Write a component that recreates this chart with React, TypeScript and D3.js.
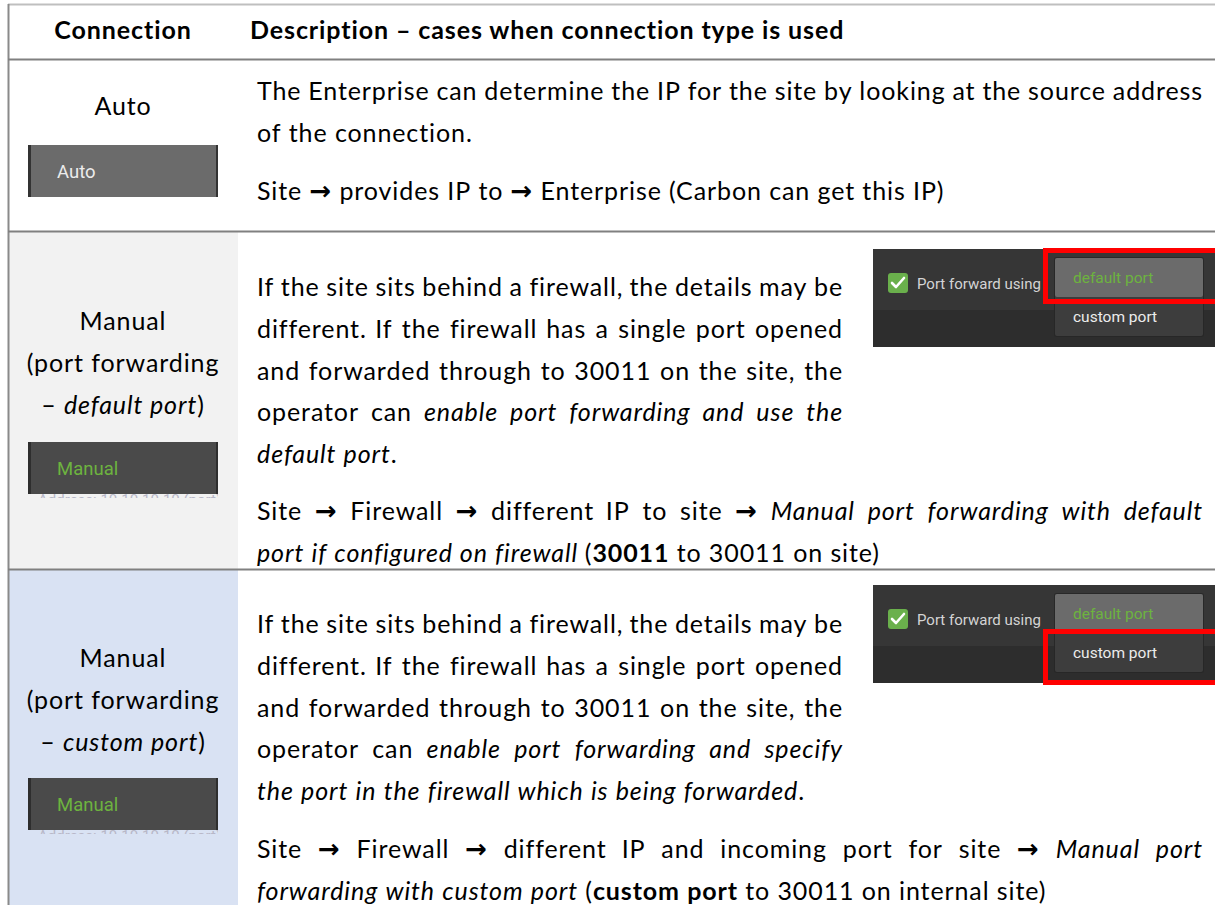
import React, { useMemo } from 'react';
import * as d3 from 'd3';

type Style = 'i' | 'b' | 'a';
type Run = { t: string; s?: Style };

const W = 1215;
const H = 905;

// ---------- data ----------
const headerLabels: string[] = ['Connection', 'Description – cases when connection type is used'];

const connectionLabels: Run[][][] = [
  [[{ t: 'Auto' }]],
  [[{ t: 'Manual' }], [{ t: '(port forwarding' }], [{ t: '– ' }, { t: 'default port', s: 'i' }, { t: ')' }]],
  [[{ t: 'Manual' }], [{ t: '(port forwarding' }], [{ t: '– ' }, { t: 'custom port', s: 'i' }, { t: ')' }]],
];

const buttonLabels: string[] = ['Auto', 'Manual', 'Manual'];

const autoDescription: Run[][][] = [
  [
    [{ t: 'The Enterprise can determine the IP for the site by looking at the source address' }],
    [{ t: 'of the connection.' }],
  ],
  [[{ t: 'Site ' }, { t: '→', s: 'a' }, { t: ' provides IP to ' }, { t: '→', s: 'a' }, { t: ' Enterprise (Carbon can get this IP)' }]],
];

const defaultPortDescription: Run[][][] = [
  [
    [{ t: 'If the site sits behind a firewall, the details may be' }],
    [{ t: 'different. If the firewall has a single port opened' }],
    [{ t: 'and forwarded through to 30011 on the site, the' }],
    [{ t: 'operator can ' }, { t: 'enable port forwarding and use the', s: 'i' }],
    [{ t: 'default port', s: 'i' }, { t: '.' }],
  ],
  [
    [{ t: 'Site ' }, { t: '→', s: 'a' }, { t: ' Firewall ' }, { t: '→', s: 'a' }, { t: ' different IP to site ' }, { t: '→', s: 'a' }, { t: ' ' }, { t: 'Manual port forwarding with default', s: 'i' }],
    [{ t: 'port if configured on firewall', s: 'i' }, { t: ' (' }, { t: '30011', s: 'b' }, { t: ' to 30011 on site)' }],
  ],
];

const customPortDescription: Run[][][] = [
  [
    [{ t: 'If the site sits behind a firewall, the details may be' }],
    [{ t: 'different. If the firewall has a single port opened' }],
    [{ t: 'and forwarded through to 30011 on the site, the' }],
    [{ t: 'operator can ' }, { t: 'enable port forwarding and specify', s: 'i' }],
    [{ t: 'the port in the firewall which is being forwarded', s: 'i' }, { t: '.' }],
  ],
  [
    [{ t: 'Site ' }, { t: '→', s: 'a' }, { t: ' Firewall ' }, { t: '→', s: 'a' }, { t: ' different IP and incoming port for site ' }, { t: '→', s: 'a' }, { t: ' ' }, { t: 'Manual port', s: 'i' }],
    [{ t: 'forwarding with custom port', s: 'i' }, { t: ' (' }, { t: 'custom port', s: 'b' }, { t: ' to 30011 on internal site)' }],
  ],
];

const descriptions: Run[][][][] = [autoDescription, defaultPortDescription, customPortDescription];

const dropdownOptions: string[] = ['default port', 'custom port'];
const checkboxLabel = 'Port forward using';

// ---------- layout ----------
const FONT = "Lato, 'Open Sans', sans-serif";
const ARROW_FONT = "'DejaVu Sans', sans-serif";
const UI_FONT = "Roboto, 'Noto Sans', sans-serif";
const SIZE = 25;
const ARROW_SIZE = 26;
const LS = 0.9;
const LINE = 41.8;

const rowEdges = [59, 231, 569, H];
const colSplit = 238;
const textX0 = 257;
const narrowX1 = 843;
const fullX1 = 1203;

const paraStarts = [
  [100, 200],
  [296, 520],
  [633, 858],
];
const labelStarts = [115, 330, 667];
const buttonTops = [145, 442, 778];
const shotTops = [249, 585];
const leftFills = ['#ffffff', '#f2f2f2', '#d9e2f3'];

let ctx: CanvasRenderingContext2D | null = null;
function fontFor(s?: Style): string {
  if (s === 'a') return `bold ${ARROW_SIZE}px ${ARROW_FONT}`;
  return `${s === 'i' ? 'italic ' : ''}${s === 'b' ? 'bold ' : ''}${SIZE}px ${FONT}`;
}
function measure(text: string, s?: Style): number {
  if (!ctx) ctx = document.createElement('canvas').getContext('2d');
  if (!ctx) return text.length * SIZE * 0.55;
  ctx.font = fontFor(s);
  return ctx.measureText(text).width + LS * text.length;
}

function toWords(runs: Run[]): Run[][] {
  const out: Run[][] = [];
  let cur: Run[] = [];
  runs.forEach((r) => {
    const parts = r.t.split(' ');
    parts.forEach((p, i) => {
      if (i > 0) {
        if (cur.length) out.push(cur);
        cur = [];
      }
      if (p) cur.push({ t: p, s: r.s });
    });
  });
  if (cur.length) out.push(cur);
  return out;
}

function layoutLine(runs: Run[], x0: number, x1: number, justify: boolean) {
  const words = toWords(runs);
  const widths = words.map((w) => d3.sum(w, (seg) => measure(seg.t, seg.s)));
  const total = d3.sum(widths);
  const gap = justify && words.length > 1 ? (x1 - x0 - total) / (words.length - 1) : measure(' ');
  let x = x0;
  return words.map((w, i) => {
    const pos = x;
    x += widths[i] + gap;
    return { x: pos, segs: w };
  });
}

function SegText({ segs, x, y, anchor }: { segs: Run[]; x: number; y: number; anchor?: string }) {
  return (
    <text x={x} y={y} textAnchor={anchor} fontFamily={FONT} fontSize={SIZE} letterSpacing={LS} fill="#000">
      {segs.map((s, k) => (
        <tspan
          key={k}
          fontFamily={s.s === 'a' ? ARROW_FONT : FONT}
          fontSize={s.s === 'a' ? ARROW_SIZE : SIZE}
          fontStyle={s.s === 'i' ? 'italic' : 'normal'}
          fontWeight={s.s === 'b' || s.s === 'a' ? 'bold' : 'normal'}
        >
          {s.t}
        </tspan>
      ))}
    </text>
  );
}

function Button({ top, label, idx }: { top: number; label: string; idx: number }) {
  const auto = idx === 0;
  const fill = auto ? '#6b6b6b' : '#4a4a4a';
  const edge = auto ? '#333333' : '#2e2e2e';
  const x = 28;
  const w = 190;
  const h = 52;
  return (
    <g>
      {!auto && (
        <g>
          <clipPath id={`clip-under-${idx}`}>
            <rect x={x} y={top + h} width={w} height={4} />
          </clipPath>
          <text x={x + 10} y={top + h + 11} fontFamily={UI_FONT} fontSize={15} fill="#b8b8c8" clipPath={`url(#clip-under-${idx})`}>
            Address: 10.10.10.10 (port)
          </text>
        </g>
      )}
      <rect x={x} y={top} width={w} height={h} fill={fill} rx={auto ? 0 : 2} />
      <rect x={x} y={top} width={3} height={h} fill={edge} />
      <rect x={x + w - 2} y={top} width={2} height={h} fill={edge} />
      <text x={57} y={top + 33} fontFamily={UI_FONT} fontSize={18.5} fill={auto ? '#ececec' : '#6db33f'}>
        {label}
      </text>
    </g>
  );
}

function Screenshot({ top, selected }: { top: number; selected: number }) {
  const x = 873;
  const w = W - x;
  const ddX = x + 182;
  const ddY = top + 9;
  const ddW = 148;
  const itemH = 39;
  return (
    <g>
      <rect x={x} y={top} width={w} height={98} fill="#2d2d2d" />
      <rect x={x} y={top} width={w} height={61} fill="#363636" />
      <rect x={x + 15} y={top + 24} width={20} height={20} rx={3} fill="#6ab04c" />
      <path
        d={`M${x + 19},${top + 34} l4,4 l8,-9`}
        fill="none"
        stroke="#ffffff"
        strokeWidth={2.6}
        strokeLinecap="round"
        strokeLinejoin="round"
      />
      <text x={x + 44} y={top + 40} fontFamily={UI_FONT} fontSize={15} fill="#d4d4d4">
        {checkboxLabel}
      </text>
      <rect x={ddX - 1} y={ddY - 1} width={ddW + 2} height={itemH * 2 + 2} fill="#262626" rx={3} opacity={0.8} />
      <rect x={ddX} y={ddY} width={ddW} height={itemH * 2} fill="#3d3d3d" rx={2} />
      <rect x={ddX} y={ddY} width={ddW} height={itemH} fill="#6b6b6b" rx={2} />
      {dropdownOptions.map((o, i) => (
        <text
          key={o}
          x={ddX + 18}
          y={ddY + 25 + i * itemH}
          fontFamily={UI_FONT}
          fontSize={15.5}
          fill={i === 0 ? '#6db33f' : '#ececec'}
        >
          {o}
        </text>
      ))}
      <rect
        x={x + 172.5}
        y={selected === 0 ? top + 1.5 : top + 46.5}
        width={200}
        height={51}
        fill="none"
        stroke="#ff0000"
        strokeWidth={5}
      />
    </g>
  );
}

export default function App() {
  const content = useMemo(() => {
    const lines: { key: string; x: number; y: number; segs: Run[] }[] = [];
    descriptions.forEach((paras, r) => {
      paras.forEach((para, p) => {
        const narrow = r > 0 && p === 0;
        const x1 = narrow ? narrowX1 : fullX1;
        para.forEach((line, l) => {
          const y = paraStarts[r][p] + l * LINE;
          const justify = l < para.length - 1;
          layoutLine(line, textX0, x1, justify).forEach((w, k) => {
            lines.push({ key: `d${r}-${p}-${l}-${k}`, x: w.x, y, segs: w.segs });
          });
        });
      });
    });
    return lines;
  }, []);

  const colCenter = (8 + colSplit) / 2;

  return (
    <svg
      width={W}
      height={H}
      viewBox={`0 0 ${W} ${H}`}
      style={{ position: 'absolute', left: 0, top: 0, display: 'block', background: '#ffffff' }}
    >
      <rect x={0} y={0} width={W} height={H} fill="#ffffff" />
      {leftFills.map((f, i) => (
        <rect key={i} x={9} y={rowEdges[i] + 1} width={colSplit - 9} height={rowEdges[i + 1] - rowEdges[i] - 1} fill={f} />
      ))}
      <line x1={8} x2={W} y1={4.5} y2={4.5} stroke="#bfbfbf" strokeWidth={2} />
      <line x1={8.5} x2={8.5} y1={4} y2={H} stroke="#8a8a8a" strokeWidth={2} />
      {rowEdges.slice(0, 3).map((y, i) => (
        <line key={i} x1={8} x2={W} y1={y + 0.5} y2={y + 0.5} stroke="#808080" strokeWidth={2} />
      ))}

      <text x={colCenter} y={39} textAnchor="middle" fontFamily={FONT} fontSize={SIZE} letterSpacing={LS} fontWeight="bold" fill="#000">
        {headerLabels[0]}
      </text>
      <text x={250} y={39} fontFamily={FONT} fontSize={SIZE} letterSpacing={LS} fontWeight="bold" fill="#000">
        {headerLabels[1]}
      </text>

      {connectionLabels.map((lab, r) =>
        lab.map((line, l) => (
          <SegText key={`l${r}-${l}`} segs={line} x={colCenter} y={labelStarts[r] + l * LINE} anchor="middle" />
        ))
      )}
      {buttonLabels.map((b, i) => (
        <Button key={i} top={buttonTops[i]} label={b} idx={i} />
      ))}

      {content.map((w) => (
        <SegText key={w.key} segs={w.segs} x={w.x} y={w.y} />
      ))}

      {shotTops.map((t, i) => (
        <Screenshot key={i} top={t} selected={i} />
      ))}
    </svg>
  );
}
